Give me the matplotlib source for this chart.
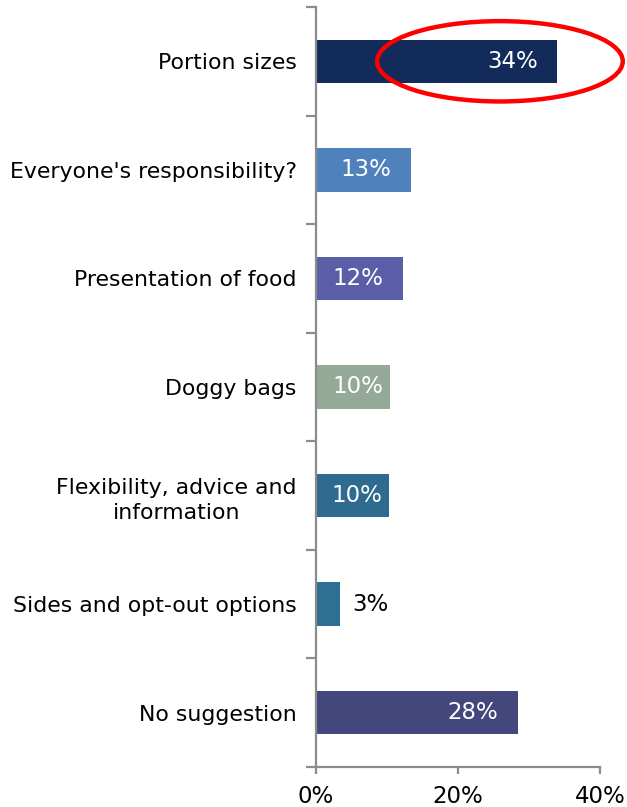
import matplotlib
matplotlib.use("Agg")
import matplotlib.pyplot as plt
from matplotlib.patches import Ellipse
from matplotlib.ticker import FixedLocator, FuncFormatter

categories = [
    "Portion sizes",
    "Everyone's responsibility?",
    "Presentation of food",
    "Doggy bags",
    "Flexibility, advice and\ninformation",
    "Sides and opt-out options",
    "No suggestion",
]
values = [34.0, 13.4, 12.2, 10.4, 10.3, 3.4, 28.4]
bar_colors = ["#122b5b", "#4f81bd", "#5a5ea7", "#95a998", "#2e6b8e", "#2e6f93", "#43477c"]
x_ticks = [0, 20, 40]

plt.rcParams["font.family"] = ["DejaVu Sans"]

fig = plt.figure(figsize=(6.27, 8.07), dpi=100)
ax = fig.add_axes([0.504, 0.0496, 0.453, 0.9417])

ypos = list(range(len(categories)))
ax.barh(ypos, values, height=0.4, color=bar_colors, zorder=2)

ax.set_xlim(0, 40)
ax.set_ylim(len(categories) - 0.5, -0.5)

# axis styling
grey = "#8c8c8c"
for side in ("top", "right"):
    ax.spines[side].set_visible(False)
for side in ("left", "bottom"):
    ax.spines[side].set_color(grey)
    ax.spines[side].set_linewidth(1.6)

ax.xaxis.set_major_locator(FixedLocator(x_ticks))
ax.xaxis.set_major_formatter(FuncFormatter(lambda v, p: f"{v:.0f}%"))
ax.tick_params(axis="x", direction="out", length=5, width=1.6, color=grey,
               labelsize=16.5, pad=8, labelcolor="black")

# category boundaries get the tick marks, category centers get the labels
ax.yaxis.set_major_locator(FixedLocator([i - 0.5 for i in range(len(categories) + 1)]))
ax.yaxis.set_major_formatter(FuncFormatter(lambda v, p: ""))
ax.yaxis.set_minor_locator(FixedLocator(ypos))
ax.set_yticklabels(categories, minor=True, fontsize=15.8, multialignment="center",
                   linespacing=1.35)
ax.tick_params(axis="y", which="major", direction="out", length=7, width=1.6, color=grey)
ax.tick_params(axis="y", which="minor", length=0, pad=14)

# value labels: white inside the bar, black just past very short bars
for y, v in zip(ypos, values):
    label = f"{v:.0f}%"
    if v < 6:
        ax.annotate(label, (v, y), xytext=(9, 0), textcoords="offset points",
                    ha="left", va="center", fontsize=16.5, color="black")
    else:
        inset = -14 if v > 12 else -5
        ax.annotate(label, (v, y), xytext=(inset, 0), textcoords="offset points",
                    ha="right", va="center", fontsize=16.5, color="white")

# highlight around the top bar's value
ax.add_patch(Ellipse((25.9, 0), width=34.6, height=0.74, fill=False,
                     edgecolor="#ff0000", linewidth=3.2, clip_on=False, zorder=3))

fig.savefig("out.png", dpi=100)
